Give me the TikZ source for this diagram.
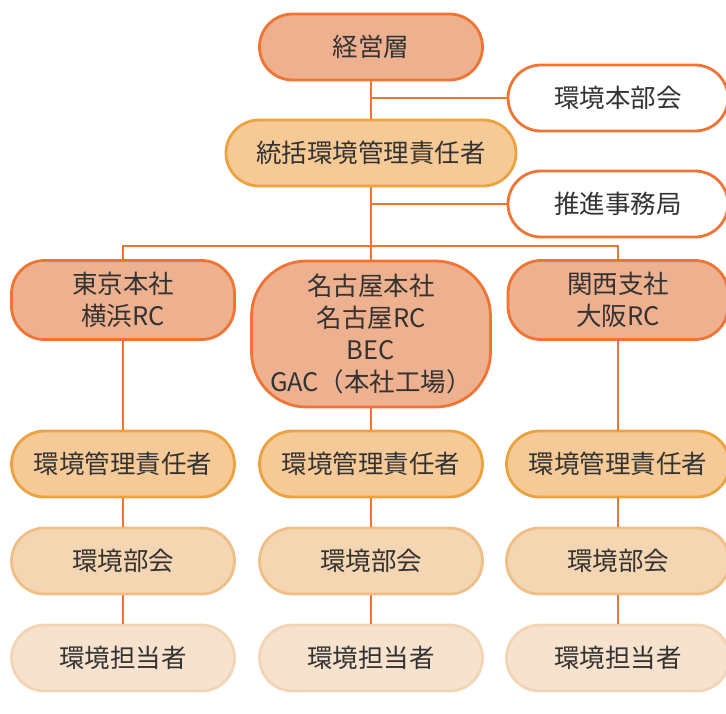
\documentclass[tikz,border=0pt]{standalone}
\usepackage{fontspec}
\setmainfont{Noto Sans CJK JP}
\definecolor{lineor}{HTML}{F07433}
\definecolor{fillA}{HTML}{EEB18F}
\definecolor{fillB}{HTML}{F6CA97}
\definecolor{drawB}{HTML}{EBA23F}
\definecolor{fillC}{HTML}{F5D6B2}
\definecolor{drawC}{HTML}{F0BE87}
\definecolor{fillD}{HTML}{F6E2CD}
\definecolor{drawD}{HTML}{F3D4B4}
\definecolor{txt}{HTML}{333333}
\begin{document}
\begin{tikzpicture}[x=1pt,y=-1pt,
  pill/.style={rectangle, rounded corners=33pt, minimum width=223pt, minimum height=66pt,
    inner sep=0pt, line width=2.8pt, text=txt, font=\fontsize{25.5pt}{32pt}\selectfont, align=center},
  lvA/.style={pill, fill=fillA, draw=lineor},
  lvW/.style={pill, fill=white, draw=lineor, minimum width=220pt},
  lvB/.style={pill, fill=fillB, draw=drawB},
  lvC/.style={pill, fill=fillC, draw=drawC},
  lvD/.style={pill, fill=fillD, draw=drawD},
  conn/.style={draw=lineor, line width=2.8pt}]
\useasboundingbox (0,0) rectangle (726,713);
\coordinate (bus) at (372,246);
\node[lvA] (keiei) at (371,47) {経営層};
\node[lvW] (honbu) at (618,98) {環境本部会};
\node[lvB, minimum width=290pt] (toukatsu) at (371,153) {統括環境管理責任者};
\node[lvW] (suishin) at (618,204) {推進事務局};
\node[lvA, minimum height=79pt] (tokyo) at (123,300) {東京本社\\横浜RC};
\node[lvA, minimum width=239pt, minimum height=146pt, rounded corners=55pt] (nagoya) at (371,334) {名古屋本社\\名古屋RC\\BEC\\GAC（本社工場）};
\node[lvA, minimum height=79pt, minimum width=220pt] (kansai) at (618,300) {関西支社\\大阪RC};
\foreach \n/\x in {L/123, M/371, R/618}{
  \node[lvB] (kan\n) at (\x,464) {環境管理責任者};
  \node[lvC] (bu\n) at (\x,561) {環境部会};
  \node[lvD] (tan\n) at (\x,658) {環境担当者};
}
\draw[conn] (keiei.south) -- (toukatsu.north);
\draw[conn] (honbu.west) -- (honbu.west -| keiei.south);
\draw[conn] (suishin.west) -- (suishin.west -| toukatsu.south);
\draw[conn] (toukatsu.south) -- (nagoya.north);
\draw[conn] (tokyo.north) |- (bus -| kansai.north) -- (kansai.north);
\foreach \n/\t in {L/tokyo, M/nagoya, R/kansai}{
  \draw[conn] (\t.south) -- (kan\n.north);
  \draw[conn] (kan\n.south) -- (bu\n.north);
  \draw[conn] (bu\n.south) -- (tan\n.north);
}
\end{tikzpicture}
\end{document}
